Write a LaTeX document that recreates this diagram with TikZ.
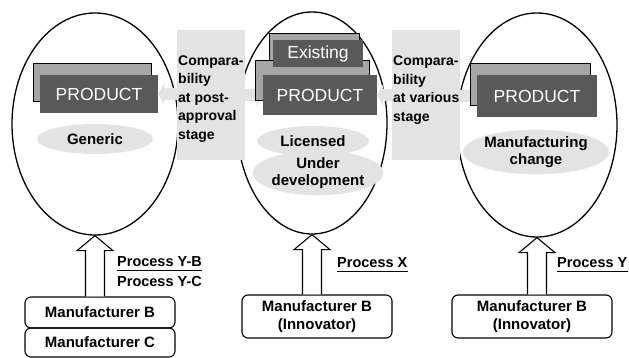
\documentclass[tikz,border=0pt]{standalone}
\usepackage{fontspec}
\setmainfont{Liberation Sans}
\usetikzlibrary{shapes.geometric,shadows,calc,arrows.meta}
\pgfdeclarelayer{back}
\pgfdeclarelayer{mid}
\pgfsetlayers{back,mid,main}
\newcommand\mkblockarrow[2]{%
  \draw[blockarrow] let \p1=(#1.south), \p2=(#2.north) in
    (\x1-9.5pt,\y2) -- (\x1-9.5pt,\y1-15pt) -- (\x1-18pt,\y1-15pt) -- (\x1,\y1)
    -- (\x1+18pt,\y1-15pt) -- (\x1+9.5pt,\y1-15pt) -- (\x1+9.5pt,\y2);}
\begin{document}
\begin{tikzpicture}[x=1pt,y=-1pt,
  lab/.style={font=\bfseries\fontsize{15}{17.5}\selectfont, inner sep=0pt},
  ell/.style={draw, line width=1.3pt, ellipse, inner sep=0pt},
  ribbon/.style={fill=black!65, text=white, font=\fontsize{17.5}{20}\selectfont, inner sep=0pt},
  speck/.style={fill=black!11, draw=none},
  soft/.style={fill=black!11, draw=none, ellipse, inner sep=0pt, align=center},
  mbox/.style={draw, line width=1.1pt, rounded corners=6pt, align=center, font=\bfseries\fontsize{15}{17.5}\selectfont, inner sep=0pt},
  blockarrow/.style={draw, line width=1.1pt, fill=white},
  softarrow/.style={line width=12pt, draw=black!11, {Triangle[width=22pt,length=6pt]}-{Triangle[width=22pt,length=6pt]}},
  comp/.style={font=\bfseries\fontsize{14}{18.5}\selectfont, inner sep=0pt, align=left, anchor=west},
  proc/.style={font=\bfseries\fontsize{14.5}{17}\selectfont, inner sep=0pt, anchor=west},
  uline/.style={line width=1pt}
]
\useasboundingbox (0,0) rectangle (629,358);

% ellipses
\begin{pgfonlayer}{back}
\node[ell, minimum width=166, minimum height=222] (e1) at (95,124) {};
\node[ell, minimum width=150, minimum height=222] (e2) at (312,123) {};
\node[ell, minimum width=160, minimum height=224] (e3) at (537,125) {};
\end{pgfonlayer}

% banners
\node[ribbon, minimum width=118, minimum height=38,
  copy shadow={shadow xshift=-7pt, shadow yshift=12pt, fill=black!35}] (p1) at (99,94) {PRODUCT};
\node[ribbon, minimum width=114, minimum height=40,
  copy shadow={shadow xshift=-8pt, shadow yshift=15pt, fill=black!35}] (p2) at (320,95) {PRODUCT};
\node[ribbon, minimum width=90, minimum height=27,
  copy shadow={shadow xshift=-4pt, shadow yshift=7pt, fill=black!35}] (x2) at (318,53.5) {Existing};
\node[ribbon, minimum width=120, minimum height=42,
  copy shadow={shadow xshift=-7pt, shadow yshift=12pt, fill=black!35}] (p3) at (537,96) {PRODUCT};

% speckled comparability areas and links
\begin{pgfonlayer}{mid}
\fill[speck] (177,30) rectangle (245,160);
\fill[speck] (392,30) rectangle (460,160);
\draw[softarrow] (p1.east) -- (p2.west);
\draw[softarrow] (p2.east) -- (p3.west);
\end{pgfonlayer}

\node[comp] (c1) at (178,99) {Compara-\\bility\\at post-\\approval\\stage};
\node[comp] (c2) at (393,90) {Compara-\\bility\\at various\\stage};

% soft ellipses
\node[soft, lab, minimum width=116, minimum height=30] (g1) at (95,139) {Generic};
\node[soft, lab, minimum width=112, minimum height=30] (g2) at (313,141) {Licensed};
\node[soft, lab, minimum width=120, minimum height=40] (g3) at (318,173) {Under\\development};
\node[soft, lab, minimum width=128, minimum height=44] (g4) at (536,152) {Manufacturing\\change};

% manufacturer boxes
\node[mbox, minimum width=150, minimum height=31] (b1) at (100,312.5) {Manufacturer B};
\node[mbox, minimum width=150, minimum height=29] (b1c) at (100,342.5) {Manufacturer C};
\node[mbox, minimum width=150, minimum height=43] (b2) at (317,316.5) {Manufacturer B\\(Innovator)};
\node[mbox, minimum width=160, minimum height=43] (b3) at (532,316.5) {Manufacturer B\\(Innovator)};

% block arrows
\mkblockarrow{e1}{b1}
\mkblockarrow{e2}{b2}
\mkblockarrow{e3}{b3}

% process labels
\node[proc] (l1) at (117,262) {Process Y-B};
\node[proc] (l1b) at (117,282) {Process Y-C};
\node[proc] (l2) at (337,263) {Process X};
\node[proc] (l3) at (557,263) {Process Y};
\draw[uline] ([yshift=-3pt]l1.south west) -- ([yshift=-3pt]l1.south east);
\draw[uline] ([yshift=-3pt]l2.south west) -- ([yshift=-3pt]l2.south east);
\draw[uline] ([yshift=-3pt]l3.south west) -- ([yshift=-3pt]l3.south east);
\end{tikzpicture}
\end{document}
